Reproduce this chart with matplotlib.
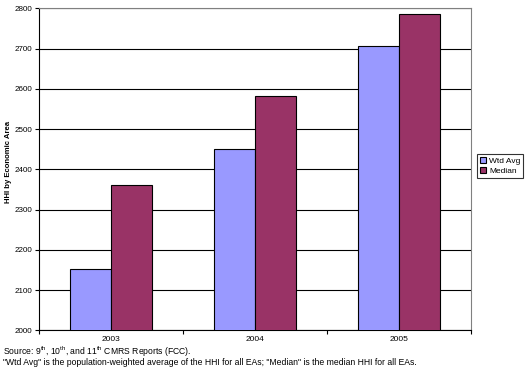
import matplotlib.pyplot as plt
import numpy as np

plt.rcParams['font.family'] = ['Liberation Sans', 'DejaVu Sans']
plt.rcParams['mathtext.fontset'] = 'custom'
plt.rcParams['mathtext.rm'] = 'Liberation Sans'

years = ['2003', '2004', '2005']
wtd_avg = [2152, 2450, 2706]
median = [2361, 2582, 2786]

fig = plt.figure(figsize=(5.26, 3.70), dpi=100)
ax = fig.add_axes([0.0741, 0.1073, 0.8213, 0.8703])

x = np.arange(len(years))
w = 0.285
ax.bar(x - w / 2, wtd_avg, w, color='#9999ff', edgecolor='black', linewidth=0.8, label='Wtd Avg', zorder=3)
ax.bar(x + w / 2, median, w, color='#993366', edgecolor='black', linewidth=0.8, label='Median', zorder=3)

ax.set_xlim(-0.5, 2.5)
ax.set_ylim(2000, 2800)
ax.set_yticks(range(2000, 2801, 100))
ax.yaxis.grid(True, color='black', linewidth=0.8, zorder=0)
ax.set_axisbelow(True)

# x ticks sit between categories, labels at category centres
ax.set_xticks([-0.5, 0.5, 1.5, 2.5])
ax.set_xticklabels([])
ax.set_xticks(x, minor=True)
ax.set_xticklabels(years, minor=True)
ax.tick_params(axis='x', which='minor', length=0, labelsize=6, pad=4)
ax.tick_params(axis='x', which='major', length=3, width=0.8, direction='out')
ax.tick_params(axis='y', length=3, width=0.8, labelsize=5.8, pad=2)

for s in ['top', 'right']:
    ax.spines[s].set_color('#808080')
for s in ['left', 'bottom']:
    ax.spines[s].set_color('black')
    ax.spines[s].set_linewidth(0.8)

fig.text(0.017, 0.562, 'HHI by Economic Area', fontsize=5.6, fontweight='bold',
         rotation=90, ha='center', va='center')

leg = ax.legend(loc='center left', bbox_to_anchor=(1.004, 0.51), fontsize=6,
                frameon=True, fancybox=False, edgecolor='black', handlelength=0.7,
                handleheight=0.7, handletextpad=0.4, borderpad=0.35, labelspacing=0.3)
leg.get_frame().set_linewidth(0.8)

fig.text(0.006, 0.0486, r'Source: 9$^{\rm th}$, 10$^{\rm th}$, and 11$^{\rm th}$ CMRS Reports (FCC).',
         fontsize=6.2, va='center', ha='left')
fig.text(0.006, 0.019, '"Wtd Avg" is the population-weighted average of the HHI for all EAs; "Median" is the median HHI for all EAs.',
         fontsize=6.2, va='center', ha='left')

plt.savefig('out.png', dpi=100)
